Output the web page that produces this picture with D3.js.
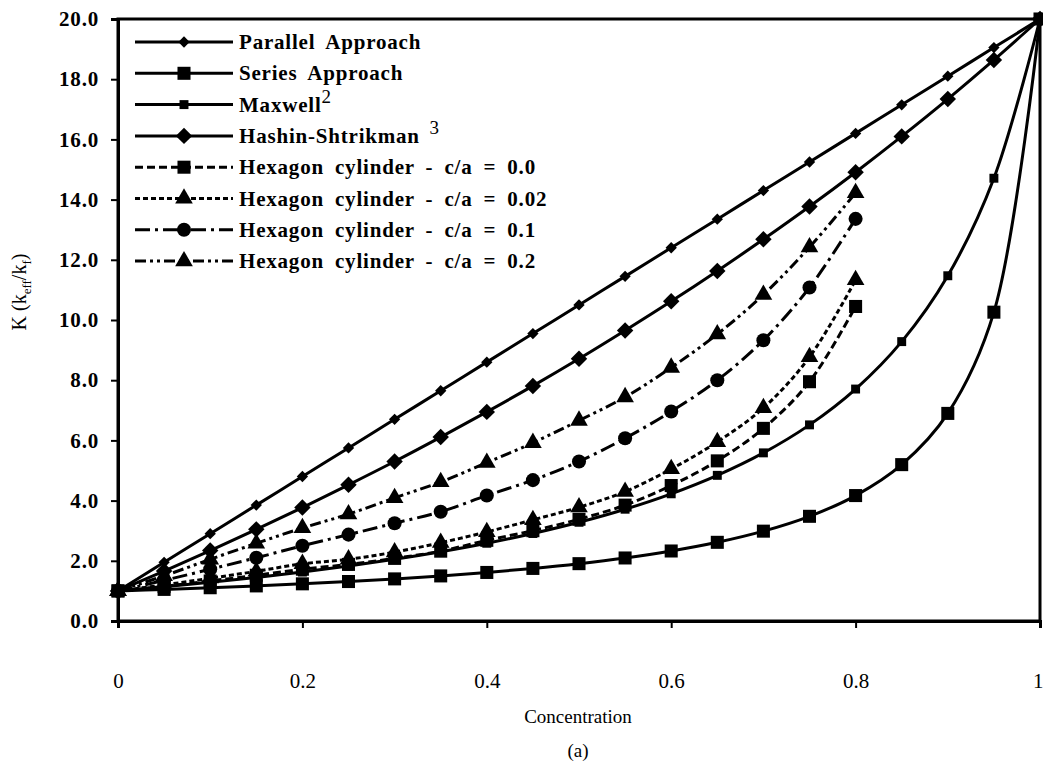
<!DOCTYPE html>
<html>
<head>
<meta charset="utf-8">
<script src="https://cdn.jsdelivr.net/npm/d3@7"></script>
<style>
  body { margin: 0; background: #fff; }
  svg { display: block; }
  .tick text { font-family: "Liberation Serif", "Times New Roman", serif; fill: #000; }
</style>
</head>
<body>
<div id="chart"></div>
<script>
// concentration steps
const xFull = [0, 0.05, 0.1, 0.15, 0.2, 0.25, 0.3, 0.35, 0.4, 0.45, 0.5,
  0.55, 0.6, 0.65, 0.7, 0.75, 0.8, 0.85, 0.9, 0.95, 1.0];
const xHex = [0, 0.05, 0.1, 0.15, 0.2, 0.25, 0.3, 0.35, 0.4, 0.45, 0.5,
  0.55, 0.6, 0.65, 0.7, 0.75, 0.8];

const parallelK = [1.0, 1.95, 2.9, 3.85, 4.8, 5.75, 6.7, 7.65, 8.6, 9.55, 10.5,
  11.45, 12.4, 13.35, 14.3, 15.25, 16.2, 17.15, 18.1, 19.05, 20.0];
const seriesK = [1.0, 1.05, 1.105, 1.166, 1.235, 1.311, 1.399, 1.498, 1.613, 1.747, 1.905,
  2.094, 2.326, 2.614, 2.985, 3.478, 4.167, 5.195, 6.897, 10.26, 20.0];
const maxwellK = [1.0, 1.135, 1.284, 1.446, 1.626, 1.826, 2.049, 2.3, 2.583, 2.907, 3.28,
  3.714, 4.226, 4.839, 5.586, 6.516, 7.706, 9.282, 11.47, 14.71, 20.0];
const hashinK = [1.0, 1.66, 2.34, 3.045, 3.77, 4.525, 5.3, 6.11, 6.947, 7.81, 8.71,
  9.65, 10.62, 11.63, 12.68, 13.77, 14.91, 16.1, 17.34, 18.64, 20.0];
const hex00K = [1.0, 1.15, 1.33, 1.52, 1.72, 1.88, 2.08, 2.32, 2.68, 3.0, 3.38,
  3.85, 4.5, 5.32, 6.4, 7.95, 10.45];
const hex002K = [1.0, 1.2, 1.42, 1.65, 1.9, 2.05, 2.29, 2.6, 2.96, 3.36, 3.78,
  4.3, 5.05, 5.95, 7.08, 8.77, 11.33];
const hex01K = [1.0, 1.35, 1.72, 2.1, 2.5, 2.87, 3.25, 3.63, 4.17, 4.68, 5.3,
  6.07, 6.96, 8.0, 9.33, 11.08, 13.36];
const hex02K = [1.0, 1.5, 2.05, 2.58, 3.09, 3.55, 4.09, 4.62, 5.26, 5.92, 6.66,
  7.44, 8.42, 9.53, 10.84, 12.42, 14.22];

const yTicks = [0, 2, 4, 6, 8, 10, 12, 14, 16, 18, 20];
const xTicks = [0, 0.2, 0.4, 0.6, 0.8, 1];

// diamonds are squares turned by 45 degrees, like the Excel markers
const series = [
  { name: 'Parallel Approach', sup: '', xs: xFull, ys: parallelK, symbol: d3.symbolSquare, rot: 45, size: 64, dash: null },
  { name: 'Series Approach', sup: '', xs: xFull, ys: seriesK, symbol: d3.symbolSquare, rot: 0, size: 170, dash: null },
  { name: 'Maxwell', sup: '2', xs: xFull, ys: maxwellK, symbol: d3.symbolSquare, rot: 0, size: 80, dash: null },
  { name: 'Hashin-Shtrikman', sup: ' 3', xs: xFull, ys: hashinK, symbol: d3.symbolSquare, rot: 45, size: 135, dash: null },
  { name: 'Hexagon cylinder - c/a = 0.0', sup: '', xs: xHex, ys: hex00K, symbol: d3.symbolSquare, rot: 0, size: 170, dash: '8,4' },
  { name: 'Hexagon cylinder - c/a = 0.02', sup: '', xs: xHex, ys: hex002K, symbol: d3.symbolTriangle, rot: 0, size: 135, dash: '5,3' },
  { name: 'Hexagon cylinder - c/a = 0.1', sup: '', xs: xHex, ys: hex01K, symbol: d3.symbolCircle, rot: 0, size: 155, dash: '15,5,3,5' },
  { name: 'Hexagon cylinder - c/a = 0.2', sup: '', xs: xHex, ys: hex02K, symbol: d3.symbolTriangle, rot: 0, size: 135, dash: '11,4,3,4,3,4' },
];

const width = 1043, height = 771;
const plotLeft = 118, plotRight = 1040, plotTop = 19, plotBottom = 621;

const svg = d3.select('#chart').append('svg')
  .attr('width', width)
  .attr('height', height);

const x = d3.scaleLinear().domain([0, 1]).range([plotLeft, plotRight]);
const y = d3.scaleLinear().domain([0, 20]).range([plotBottom, plotTop]);

// frame
svg.append('rect')
  .attr('x', plotLeft).attr('y', plotTop)
  .attr('width', plotRight - plotLeft).attr('height', plotBottom - plotTop)
  .attr('fill', 'none').attr('stroke', '#000').attr('stroke-width', 3);

const yAxis = svg.append('g')
  .attr('transform', `translate(${plotLeft},0)`)
  .call(d3.axisLeft(y).tickValues(yTicks).tickSize(7).tickPadding(12).tickFormat(d3.format('.1f')));
yAxis.select('.domain').attr('stroke-width', 3);
yAxis.selectAll('line').attr('stroke-width', 2);
yAxis.selectAll('text')
  .style('font-size', '21px')
  .style('font-weight', 'bold')
  .style('letter-spacing', '0.8px');

const xAxis = svg.append('g')
  .attr('transform', `translate(0,${plotBottom})`)
  .call(d3.axisBottom(x).tickValues(xTicks).tickSize(7).tickPadding(45)
    .tickFormat(d => (d === 0 || d === 1) ? String(d) : d.toFixed(1)));
xAxis.select('.domain').attr('stroke-width', 3);
xAxis.selectAll('line').attr('stroke-width', 2);
xAxis.selectAll('text').style('font-size', '21px');
// the last label sits on the right edge of the page
xAxis.selectAll('.tick text').filter(d => d === 1)
  .attr('text-anchor', 'end')
  .attr('dx', 3);

// axis titles
svg.append('text')
  .attr('x', (plotLeft + plotRight) / 2 - 1).attr('y', 723)
  .attr('text-anchor', 'middle')
  .style('font-family', '"Liberation Serif", serif')
  .style('font-size', '19px')
  .text('Concentration');

svg.append('text')
  .attr('x', (plotLeft + plotRight) / 2 - 1).attr('y', 757)
  .attr('text-anchor', 'middle')
  .style('font-family', '"Liberation Serif", serif')
  .style('font-size', '19px')
  .text('(a)');

const yTitle = svg.append('text')
  .attr('transform', 'translate(26,292) rotate(-90)')
  .attr('text-anchor', 'middle')
  .style('font-family', '"Liberation Serif", serif')
  .style('font-size', '20px');
yTitle.append('tspan').text('K (k');
yTitle.append('tspan').attr('dy', 5).style('font-size', '13px').text('eff');
yTitle.append('tspan').attr('dy', -5).text('/k');
yTitle.append('tspan').attr('dy', 5).style('font-size', '13px').text('f');
yTitle.append('tspan').attr('dy', -5).text(')');

const line = d3.line()
  .x(d => x(d[0]))
  .y(d => y(d[1]))
  .curve(d3.curveCatmullRom.alpha(0.5));

series.forEach(s => {
  const pts = s.xs.map((v, i) => [v, s.ys[i]]);
  const g = svg.append('g');
  g.append('path')
    .datum(pts)
    .attr('d', line)
    .attr('fill', 'none')
    .attr('stroke', '#000')
    .attr('stroke-width', 3)
    .attr('stroke-dasharray', s.dash);
  g.selectAll('path.mark')
    .data(pts)
    .enter()
    .append('path')
    .attr('class', 'mark')
    .attr('transform', d => `translate(${x(d[0])},${y(d[1])}) rotate(${s.rot})`)
    .attr('d', d3.symbol().type(s.symbol).size(s.size))
    .attr('fill', '#000');
});

// legend
const legend = svg.append('g').attr('transform', 'translate(135,42)');
series.forEach((s, i) => {
  const row = legend.append('g').attr('transform', `translate(0,${i * 31.3})`);
  row.append('line')
    .attr('x1', 0).attr('x2', 98)
    .attr('stroke', '#000').attr('stroke-width', 3)
    .attr('stroke-dasharray', s.dash);
  row.append('path')
    .attr('transform', `translate(49,0) rotate(${s.rot})`)
    .attr('d', d3.symbol().type(s.symbol).size(s.size))
    .attr('fill', '#000');
  const t = row.append('text')
    .attr('x', 104).attr('y', 7)
    .style('font-family', '"Liberation Serif", serif')
    .style('font-size', '21px')
    .style('font-weight', 'bold')
    .style('letter-spacing', '0.8px')
    .style('word-spacing', '5px')
    .text(s.name);
  if (s.sup) {
    t.append('tspan')
      .attr('dy', -9)
      .style('font-weight', 'normal')
      .style('font-size', '19px')
      .style('letter-spacing', '0px')
      .text(s.sup);
  }
});
</script>
</body>
</html>
